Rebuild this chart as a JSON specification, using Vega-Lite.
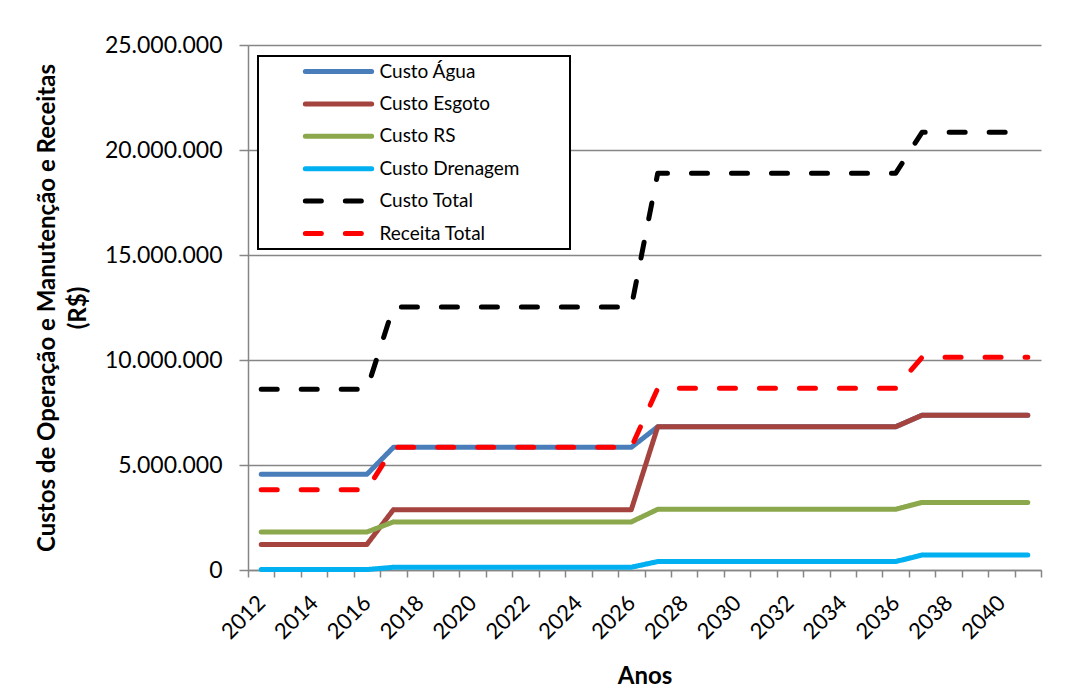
{
  "$schema": "https://vega.github.io/schema/vega-lite/v6.json",
  "width": 793,
  "height": 525,
  "autosize": {"type": "none"},
  "padding": {"left": 248, "top": 45, "right": 28, "bottom": 122},
  "config": {
    "locale": {"number": {"decimal": ",", "thousands": ".", "grouping": [3], "currency": ["R$ ", ""]}},
    "font": "Lato",
    "view": {"stroke": null}
  },
  "data": {
    "values": [
      {"ano": 2012, "Custo Água": 4560000, "Custo Esgoto": 1220000, "Custo RS": 1810000, "Custo Drenagem": 20000, "Custo Total": 8610000, "Receita Total": 3820000},
      {"ano": 2013, "Custo Água": 4560000, "Custo Esgoto": 1220000, "Custo RS": 1810000, "Custo Drenagem": 20000, "Custo Total": 8610000, "Receita Total": 3820000},
      {"ano": 2014, "Custo Água": 4560000, "Custo Esgoto": 1220000, "Custo RS": 1810000, "Custo Drenagem": 20000, "Custo Total": 8610000, "Receita Total": 3820000},
      {"ano": 2015, "Custo Água": 4560000, "Custo Esgoto": 1220000, "Custo RS": 1810000, "Custo Drenagem": 20000, "Custo Total": 8610000, "Receita Total": 3820000},
      {"ano": 2016, "Custo Água": 4560000, "Custo Esgoto": 1220000, "Custo RS": 1810000, "Custo Drenagem": 20000, "Custo Total": 8610000, "Receita Total": 3820000},
      {"ano": 2017, "Custo Água": 5840000, "Custo Esgoto": 2870000, "Custo RS": 2290000, "Custo Drenagem": 130000, "Custo Total": 12520000, "Receita Total": 5840000},
      {"ano": 2018, "Custo Água": 5840000, "Custo Esgoto": 2870000, "Custo RS": 2290000, "Custo Drenagem": 130000, "Custo Total": 12520000, "Receita Total": 5840000},
      {"ano": 2019, "Custo Água": 5840000, "Custo Esgoto": 2870000, "Custo RS": 2290000, "Custo Drenagem": 130000, "Custo Total": 12520000, "Receita Total": 5840000},
      {"ano": 2020, "Custo Água": 5840000, "Custo Esgoto": 2870000, "Custo RS": 2290000, "Custo Drenagem": 130000, "Custo Total": 12520000, "Receita Total": 5840000},
      {"ano": 2021, "Custo Água": 5840000, "Custo Esgoto": 2870000, "Custo RS": 2290000, "Custo Drenagem": 130000, "Custo Total": 12520000, "Receita Total": 5840000},
      {"ano": 2022, "Custo Água": 5840000, "Custo Esgoto": 2870000, "Custo RS": 2290000, "Custo Drenagem": 130000, "Custo Total": 12520000, "Receita Total": 5840000},
      {"ano": 2023, "Custo Água": 5840000, "Custo Esgoto": 2870000, "Custo RS": 2290000, "Custo Drenagem": 130000, "Custo Total": 12520000, "Receita Total": 5840000},
      {"ano": 2024, "Custo Água": 5840000, "Custo Esgoto": 2870000, "Custo RS": 2290000, "Custo Drenagem": 130000, "Custo Total": 12520000, "Receita Total": 5840000},
      {"ano": 2025, "Custo Água": 5840000, "Custo Esgoto": 2870000, "Custo RS": 2290000, "Custo Drenagem": 130000, "Custo Total": 12520000, "Receita Total": 5840000},
      {"ano": 2026, "Custo Água": 5840000, "Custo Esgoto": 2870000, "Custo RS": 2290000, "Custo Drenagem": 130000, "Custo Total": 12520000, "Receita Total": 5840000},
      {"ano": 2027, "Custo Água": 6820000, "Custo Esgoto": 6820000, "Custo RS": 2890000, "Custo Drenagem": 400000, "Custo Total": 18890000, "Receita Total": 8650000},
      {"ano": 2028, "Custo Água": 6820000, "Custo Esgoto": 6820000, "Custo RS": 2890000, "Custo Drenagem": 400000, "Custo Total": 18890000, "Receita Total": 8650000},
      {"ano": 2029, "Custo Água": 6820000, "Custo Esgoto": 6820000, "Custo RS": 2890000, "Custo Drenagem": 400000, "Custo Total": 18890000, "Receita Total": 8650000},
      {"ano": 2030, "Custo Água": 6820000, "Custo Esgoto": 6820000, "Custo RS": 2890000, "Custo Drenagem": 400000, "Custo Total": 18890000, "Receita Total": 8650000},
      {"ano": 2031, "Custo Água": 6820000, "Custo Esgoto": 6820000, "Custo RS": 2890000, "Custo Drenagem": 400000, "Custo Total": 18890000, "Receita Total": 8650000},
      {"ano": 2032, "Custo Água": 6820000, "Custo Esgoto": 6820000, "Custo RS": 2890000, "Custo Drenagem": 400000, "Custo Total": 18890000, "Receita Total": 8650000},
      {"ano": 2033, "Custo Água": 6820000, "Custo Esgoto": 6820000, "Custo RS": 2890000, "Custo Drenagem": 400000, "Custo Total": 18890000, "Receita Total": 8650000},
      {"ano": 2034, "Custo Água": 6820000, "Custo Esgoto": 6820000, "Custo RS": 2890000, "Custo Drenagem": 400000, "Custo Total": 18890000, "Receita Total": 8650000},
      {"ano": 2035, "Custo Água": 6820000, "Custo Esgoto": 6820000, "Custo RS": 2890000, "Custo Drenagem": 400000, "Custo Total": 18890000, "Receita Total": 8650000},
      {"ano": 2036, "Custo Água": 6820000, "Custo Esgoto": 6820000, "Custo RS": 2890000, "Custo Drenagem": 400000, "Custo Total": 18890000, "Receita Total": 8650000},
      {"ano": 2037, "Custo Água": 7370000, "Custo Esgoto": 7370000, "Custo RS": 3220000, "Custo Drenagem": 710000, "Custo Total": 20840000, "Receita Total": 10130000},
      {"ano": 2038, "Custo Água": 7370000, "Custo Esgoto": 7370000, "Custo RS": 3220000, "Custo Drenagem": 710000, "Custo Total": 20840000, "Receita Total": 10130000},
      {"ano": 2039, "Custo Água": 7370000, "Custo Esgoto": 7370000, "Custo RS": 3220000, "Custo Drenagem": 710000, "Custo Total": 20840000, "Receita Total": 10130000},
      {"ano": 2040, "Custo Água": 7370000, "Custo Esgoto": 7370000, "Custo RS": 3220000, "Custo Drenagem": 710000, "Custo Total": 20840000, "Receita Total": 10130000},
      {"ano": 2041, "Custo Água": 7370000, "Custo Esgoto": 7370000, "Custo RS": 3220000, "Custo Drenagem": 710000, "Custo Total": 20840000, "Receita Total": 10130000}
    ]
  },
  "transform": [
    {"fold": ["Custo Água", "Custo Esgoto", "Custo RS", "Custo Drenagem", "Custo Total", "Receita Total"], "as": ["serie", "valor"]}
  ],
  "mark": {"type": "line", "strokeWidth": 5, "strokeCap": "round", "strokeJoin": "round"},
  "encoding": {
    "x": {
      "field": "ano",
      "type": "ordinal",
      "bandPosition": 0.5,
      "scale": {"type": "band", "paddingInner": 0, "paddingOuter": 0},
      "axis": {
        "title": "Anos",
        "titleFontSize": 24,
        "titleFontWeight": "bold",
        "titleColor": "black",
        "titlePadding": 22,
        "labelAngle": -45,
        "labelAlign": "right",
        "labelBaseline": "middle",
        "labelFontSize": 22,
        "labelColor": "black",
        "labelPadding": 22,
        "labelOverlap": false,
        "labelExpr": "datum.value % 2 == 0 ? datum.label : ''",
        "tickBand": "extent",
        "tickSize": 7,
        "tickColor": "#868686",
        "tickWidth": 1.5,
        "domainColor": "#868686",
        "domainWidth": 1.5,
        "grid": false
      }
    },
    "y": {
      "field": "valor",
      "type": "quantitative",
      "scale": {"domain": [0, 25000000], "nice": false},
      "axis": {
        "title": ["Custos de Operação e Manutenção e Receitas", "(R$)"],
        "titleFontSize": 24,
        "titleFontWeight": "bold",
        "titleColor": "black",
        "titleLineHeight": 31,
        "titlePadding": 14,
        "values": [0, 5000000, 10000000, 15000000, 20000000, 25000000],
        "format": ",d",
        "labelFontSize": 23,
        "labelColor": "black",
        "labelPadding": 17,
        "tickSize": 9,
        "tickColor": "#868686",
        "tickWidth": 1.5,
        "domainColor": "#868686",
        "domainWidth": 1.5,
        "grid": true,
        "gridColor": "#868686",
        "gridWidth": 1.5
      }
    },
    "color": {
      "field": "serie",
      "type": "nominal",
      "scale": {
        "domain": ["Custo Água", "Custo Esgoto", "Custo RS", "Custo Drenagem", "Custo Total", "Receita Total"],
        "range": ["#4A7EBB", "#A5443F", "#8BA84C", "#00B0F0", "#000000", "#FF0000"]
      },
      "legend": {
        "title": "\u00a0",
        "titleOrient": "right",
        "titlePadding": 46,
        "titleFontSize": 4,
        "orient": "none",
        "legendX": 10,
        "legendY": 11,
        "padding": 4.5,
        "strokeColor": "black",
        "fillColor": "white",
        "symbolType": "stroke",
        "symbolSize": 4400,
        "symbolStrokeWidth": 5,
        "symbolOffset": 40,
        "labelOffset": 5,
        "labelFontSize": 19,
        "labelColor": "black",
        "labelLimit": 400,
        "clipHeight": 22,
        "rowPadding": 10.4,
        "encode": {
          "legend": {"update": {"strokeWidth": {"value": 2}}},
          "symbols": {"update": {"strokeCap": {"value": "round"}}}
        }
      }
    },
    "strokeDash": {
      "field": "serie",
      "type": "nominal",
      "scale": {
        "domain": ["Custo Água", "Custo Esgoto", "Custo RS", "Custo Drenagem", "Custo Total", "Receita Total"],
        "range": [[1, 0], [1, 0], [1, 0], [1, 0], [16, 24], [16, 24]]
      }
    }
  }
}
